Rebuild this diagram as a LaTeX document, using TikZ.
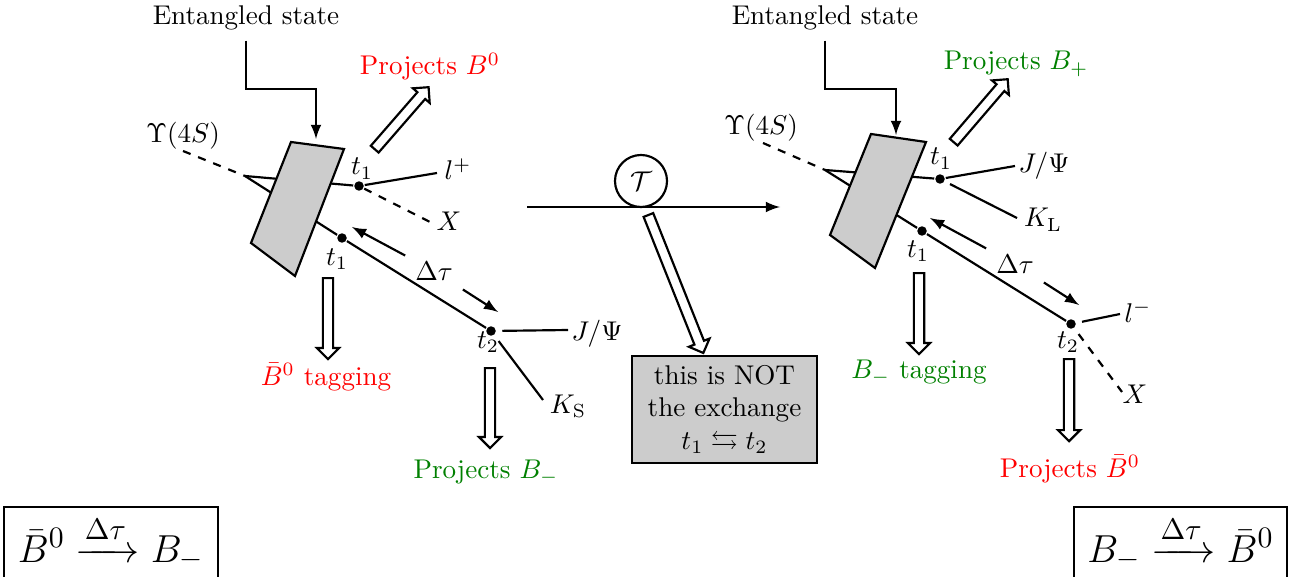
\documentclass[tikz,border=0pt]{standalone}
\usepackage{amsmath,amssymb}
\usetikzlibrary{shapes.arrows}
\definecolor{tagred}{RGB}{255,0,0}
\definecolor{taggreen}{RGB}{0,128,0}
\definecolor{boxgray}{gray}{0.8}
\begin{document}
\begin{tikzpicture}[x=0.369pt,y=-0.369pt,>=latex,thick,
  hollow/.style={single arrow, draw, thick, fill=white, inner xsep=0pt, inner ysep=1.5pt,
    single arrow head extend=2.2pt, anchor=tail},
  dot/.style={circle, fill, inner sep=0pt, minimum size=3.5pt}]
\useasboundingbox (0,0) rectangle (1299,576);

% left half: B0bar tagging, then B- at t2
\node[anchor=base] (ent1) at (246,25) {Entangled state};
\coordinate (b1in) at (316,139);
\draw[->] (ent1.south) -- ++(0,48) -| (b1in);
\node[anchor=base] (ups1) at (183,143) {$\Upsilon(4S)$};
\coordinate (u1) at (183,151);
\coordinate (s1) at (245,176);
\node[dot] (d1a) at (359,186) {};
\node[dot] (d1b) at (342,238) {};
\node[dot] (d2a) at (491,331) {};
\draw[dashed] (u1) -- (s1);
\draw (s1) -- (d1a);
\draw (s1) -- (d1b) -- (d2a);
\draw[fill=boxgray] (291,142) -- (344,149) -- (295,276) -- (251,243) -- cycle;
\coordinate (lp1) at (437,173);
\coordinate (xe1) at (432,223);
\coordinate (je1) at (568,330);
\coordinate (ke1) at (543,400);
\draw (d1a) -- (lp1);
\draw[dashed] (d1a) -- (xe1);
\draw[shorten <=2pt] (d2a) -- (je1);
\draw[shorten <=2.5pt] (d2a) -- (ke1);
\node[anchor=base] (t1up1) at (362,175) {$t_1$};
\node[anchor=base] (lplus) at (458,180) {$l^+$};
\node[anchor=base] (xlab1) at (449,230) {$X$};
\node[anchor=base] (t1lo1) at (337,265) {$t_1$};
\node[anchor=base] (t2lab1) at (488,348) {$t_2$};
\node[anchor=base] (jpsi1) at (597,340) {$J/\Psi$};
\node[anchor=base] (ks) at (568,413) {$K_{\mathrm{S}}$};
\node (dt1) at (434,271) {$\Delta\tau$};
\coordinate (dt1a) at (352,227);
\coordinate (dt1b) at (498,312);
\draw[->] (dt1) -- (dt1a);
\draw[->] (dt1) -- (dt1b);
\node[hollow, rotate=49, minimum height=30.3pt] (ha1) at (374,150) {};
\node[hollow, rotate=-90, minimum height=29.9pt] (ha2) at (328,277) {};
\node[hollow, rotate=-90, minimum height=29.5pt] (ha3) at (490,367) {};
\node[anchor=base, text=tagred] (pr1) at (430,75) {Projects $B^0$};
\node[anchor=base, text=tagred] (tag1) at (326,385) {$\bar{B}^0$ tagging};
\node[anchor=base, text=taggreen] (pr2) at (486,478) {Projects $B_-$};

% middle: time reversal
\coordinate (m0) at (527,207);
\coordinate (m1) at (780,207);
\draw[->] (m0) -- (m1);
\node[circle, draw, fill=white, inner sep=0pt, minimum size=19.2pt] (trev) at (641,181) {$\mathcal{T}$};
\node[hollow, rotate=-68.3, minimum height=54.8pt] (ha4) at (648,214) {};
\node[draw, fill=boxgray, align=center, inner xsep=5.9pt] (note) at (724.5,409.5) {this is NOT\\the exchange\\$t_1 \leftrightarrows t_2$};

% right half: B- tagging, then B0bar at t2
\node[anchor=base] (ent2) at (825,25) {Entangled state};
\coordinate (b2in) at (896,135);
\draw[->] (ent2.south) -- ++(0,48) -| (b2in);
\node[anchor=base] (ups2) at (761,135) {$\Upsilon(4S)$};
\coordinate (u2) at (763,143);
\coordinate (s2) at (825,170);
\node[dot] (d1c) at (940,179) {};
\node[dot] (d1d) at (922,231) {};
\node[dot] (d2b) at (1071,324) {};
\draw[dashed] (u2) -- (s2);
\draw (s2) -- (d1c);
\draw (s2) -- (d1d) -- (d2b);
\draw[fill=boxgray] (871,134) -- (926,142) -- (875,268) -- (830,235) -- cycle;
\coordinate (je2) at (1015,166);
\coordinate (ke2) at (1017,218);
\coordinate (lm2) at (1120,314);
\coordinate (xe2) at (1122,392);
\draw (d1c) -- (je2);
\draw[shorten <=2pt] (d1c) -- (ke2);
\draw[shorten <=2pt] (d2b) -- (lm2);
\draw[dashed, shorten <=2.5pt] (d2b) -- (xe2);
\node[anchor=base] (t1up2) at (941,165) {$t_1$};
\node[anchor=base] (jpsi2) at (1044,173) {$J/\Psi$};
\node[anchor=base] (kl) at (1043,227) {$K_{\mathrm{L}}$};
\node[anchor=base] (t1lo2) at (918,257) {$t_1$};
\node[anchor=base] (t2lab2) at (1068,348) {$t_2$};
\node[anchor=base] (lminus) at (1138,322) {$l^-$};
\node[anchor=base] (xlab2) at (1135,403) {$X$};
\node (dt2) at (1015,264) {$\Delta\tau$};
\coordinate (dt2a) at (930,218);
\coordinate (dt2b) at (1079,305);
\draw[->] (dt2) -- (dt2a);
\draw[->] (dt2) -- (dt2b);
\node[hollow, rotate=49.4, minimum height=30.6pt] (ha5) at (953,143) {};
\node[hollow, rotate=-90, minimum height=29.9pt] (ha6) at (919,272) {};
\node[hollow, rotate=-90, minimum height=30.3pt] (ha7) at (1069,358) {};
\node[anchor=base, text=taggreen] (pr3) at (1016,70) {Projects $B_+$};
\node[anchor=base, text=taggreen] (tag2) at (919,378) {$B_-$ tagging};
\node[anchor=base, text=tagred] (pr4) at (1070,477) {Projects $\bar{B}^0$};

% summaries
\node[draw, anchor=base, inner xsep=5pt, inner ysep=3pt, font=\fontsize{15.1}{18}\selectfont] (sum1) at (111,562) {$\bar{B}^0 \xrightarrow{\Delta\tau} B_-$};
\node[draw, anchor=base, inner xsep=5pt, inner ysep=3pt, font=\fontsize{15.1}{18}\selectfont] (sum2) at (1180.5,562) {$B_- \xrightarrow{\Delta\tau} \bar{B}^0$};
\end{tikzpicture}
\end{document}
